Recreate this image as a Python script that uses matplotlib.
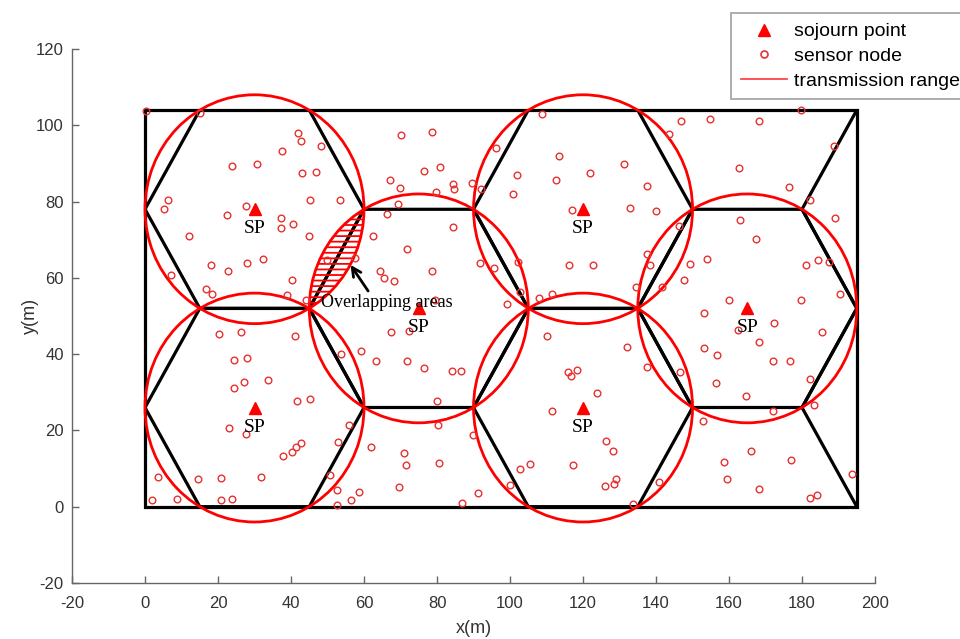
import numpy as np
import matplotlib
matplotlib.use("Agg")
import matplotlib.pyplot as plt
from matplotlib.patches import Circle, Polygon, Rectangle, PathPatch
from matplotlib.path import Path
from matplotlib.lines import Line2D

plt.rcParams["axes.unicode_minus"] = False

# ---- deployment field and sojourn points ----
field_w, field_h = 195, 104
radius = 30
sp_x = [30, 75, 120, 165, 30, 120]
sp_y = [78, 52, 78, 52, 26, 26]
# partial hexagon cells on the right border of the field
edge_cell_x = [210, 210]
edge_cell_y = [78, 26]

# ---- sensor nodes ----
node_x = [0.2, 15.1, 42.0, 42.6, 48.1, 37.4, 23.9, 30.7, 43.1, 46.8, 6.4, 5.3, 45.3, 53.5,
          27.6, 22.5, 37.3, 40.6, 37.3, 12.0, 44.9, 62.4,
          108.7, 70.1, 78.5, 96.2, 113.4, 80.8, 76.5, 101.8, 122.0, 67.1, 69.8, 84.5, 84.7,
          89.7, 92.0, 112.5, 79.8, 100.9, 69.3, 66.2, 117.0, 84.3,
          179.6, 146.8, 154.9, 168.2, 143.6, 188.8, 131.1, 162.7, 137.5, 176.5, 132.8, 139.9,
          182.2, 162.9, 189.1, 146.2, 167.4,
          18.0, 22.7, 27.9, 32.3, 7.1, 40.4, 16.6, 18.4, 38.8, 44.1, 49.8, 57.5, 64.4, 20.3,
          26.2, 41.0, 24.3, 28.0, 53.7, 59.1, 63.2,
          71.9, 65.5, 68.2, 78.6, 91.8, 95.6, 102.3, 116.2, 122.6, 79.5, 99.1, 108.0, 111.4,
          102.7, 67.5, 72.4, 110.0, 71.7, 76.5, 84.0, 86.5, 115.8, 118.3,
          137.4, 138.4, 153.9, 149.2, 181.0, 184.3, 187.5, 147.7, 134.5, 141.6, 190.4, 159.9,
          179.7, 153.2, 172.4, 162.4, 185.6, 168.2, 132.1, 153.2, 156.8, 172.1, 176.6, 137.4,
          146.7,
          24.4, 27.1, 33.6, 41.6, 45.2, 23.1, 27.6, 56.0, 53.0, 61.9, 42.7, 41.5, 40.3, 37.7,
          3.5, 14.4, 20.8, 31.8, 50.7, 52.7, 58.7, 1.9, 8.9, 20.8, 23.8, 56.4, 52.7,
          116.7, 123.7, 80.0, 111.6, 80.3, 89.9, 126.2, 128.3, 71.0, 71.5, 80.6, 102.8, 105.6,
          117.2, 129.0, 128.6, 126.0, 69.7, 91.3, 100.0, 86.8,
          156.4, 164.7, 182.2, 183.4, 172.1, 152.8, 166.1, 158.5, 177.1, 140.9, 159.4, 168.1,
          193.6, 182.1, 184.1, 133.8]
node_y = [103.8, 103.1, 98.1, 95.9, 94.6, 93.3, 89.3, 89.8, 87.6, 87.7, 80.4, 78.1, 80.4, 80.3,
          78.8, 76.6, 75.8, 74.2, 73.1, 70.9, 70.9, 70.9,
          102.9, 97.4, 98.2, 94.1, 91.9, 89.1, 88.0, 87.1, 87.5, 85.6, 83.6, 84.5, 83.4,
          84.9, 83.3, 85.6, 82.5, 81.9, 79.4, 76.8, 77.7, 73.3,
          104.0, 101.0, 101.6, 101.0, 97.8, 94.6, 89.9, 88.9, 84.1, 83.9, 78.4, 77.6,
          80.3, 75.3, 75.7, 73.6, 70.3,
          63.5, 61.7, 64.0, 65.0, 60.8, 59.4, 57.0, 55.8, 55.5, 54.1, 64.8, 65.3, 61.8, 45.3,
          45.9, 44.7, 38.5, 39.0, 40.1, 40.8, 38.1,
          67.5, 59.9, 59.2, 61.9, 63.8, 62.6, 64.1, 63.5, 63.3, 54.3, 53.2, 54.8, 55.9,
          56.4, 45.8, 46.0, 44.7, 38.3, 36.4, 35.5, 35.7, 35.3, 35.8,
          66.3, 63.5, 65.0, 63.7, 63.5, 64.7, 64.1, 59.5, 57.7, 57.6, 55.8, 54.1,
          54.3, 50.7, 48.3, 46.3, 45.7, 43.1, 41.9, 41.6, 39.7, 38.3, 38.3, 36.7,
          35.4,
          31.0, 32.7, 33.3, 27.6, 28.3, 20.6, 19.2, 21.4, 17.1, 15.7, 16.6, 15.7, 14.4, 13.3,
          7.8, 7.3, 7.6, 7.8, 8.3, 4.5, 3.8, 1.8, 1.9, 1.8, 2.0, 1.8, 0.5,
          34.2, 29.7, 27.7, 25.1, 21.5, 18.7, 17.3, 14.6, 14.0, 11.0, 11.5, 9.9, 11.3,
          11.0, 7.3, 5.9, 5.5, 5.1, 3.6, 5.8, 1.0,
          32.5, 29.1, 33.6, 26.8, 25.1, 22.4, 14.5, 11.6, 12.2, 6.4, 7.2, 4.7,
          8.7, 2.4, 3.2, 0.8]

RED = "#ff0000"
NODE_RED = "#e83030"

fig = plt.figure(figsize=(9.60, 6.39), dpi=100)
ax = fig.add_axes([0.075, 0.0876, 0.8365, 0.8357])
ax.set_xlim(-20, 200)
ax.set_ylim(-20, 120)

# field boundary
ax.add_patch(Rectangle((0, 0), field_w, field_h, fill=False, edgecolor="black",
                       linewidth=2.3, zorder=2))

# hexagonal cells (flat-top, circumradius = transmission range)
angles = np.deg2rad(np.arange(0, 360, 60))
for cx, cy in zip(sp_x + edge_cell_x, sp_y + edge_cell_y):
    verts = np.column_stack([cx + radius * np.cos(angles), cy + radius * np.sin(angles)])
    hx = Polygon(verts, closed=True, fill=False, edgecolor="black", linewidth=2.3,
                 zorder=2, joinstyle="round")
    ax.add_patch(hx)
    hx.set_clip_path(Rectangle((0, 0), field_w, field_h, transform=ax.transData))

# transmission range circles
for cx, cy in zip(sp_x, sp_y):
    ax.add_patch(Circle((cx, cy), radius, fill=False, edgecolor=RED, linewidth=2.0,
                        zorder=3))

# hatched overlap between the first two coverage circles
a = np.array([sp_x[0], sp_y[0]], float)
b = np.array([sp_x[1], sp_y[1]], float)
d = np.linalg.norm(b - a)
mid = (a + b) / 2
h = np.sqrt(radius ** 2 - (d / 2) ** 2)
perp = np.array([-(b - a)[1], (b - a)[0]]) / d
p1, p2 = mid - h * perp, mid + h * perp
ta1, ta2 = [np.arctan2(*(p - a)[::-1]) for p in (p1, p2)]
tb2, tb1 = [np.arctan2(*(p - b)[::-1]) for p in (p2, p1)]
t_a = np.linspace(ta1, ta2, 60)
t_b = np.linspace(tb2, tb1 if tb1 > tb2 else tb1 + 2 * np.pi, 60)
lens = np.vstack([np.column_stack([a[0] + radius * np.cos(t_a), a[1] + radius * np.sin(t_a)]),
                  np.column_stack([b[0] + radius * np.cos(t_b), b[1] + radius * np.sin(t_b)])])
plt.rcParams["hatch.linewidth"] = 1.3
ax.add_patch(PathPatch(Path(np.vstack([lens, lens[:1]]), closed=True), facecolor="none",
                       edgecolor=RED, hatch="---", linewidth=0, zorder=2.5))

# sensor nodes
ax.plot(node_x, node_y, linestyle="none", marker="o", markersize=4.8,
        markerfacecolor="none", markeredgecolor=NODE_RED, markeredgewidth=1.0, zorder=4)

# sojourn points
ax.plot(sp_x, sp_y, linestyle="none", marker="^", markersize=9, color=RED, zorder=5)
for x, y in zip(sp_x, sp_y):
    ax.annotate("SP", (x, y), xytext=(0, -14), textcoords="offset points",
                ha="center", va="center", fontsize=14, family="Liberation Serif",
                color="black", zorder=6)

ax.annotate("Overlapping areas", xy=(56.3, 63.4), xytext=(48.3, 53.6),
            ha="left", va="center", fontsize=13, family="Liberation Serif", zorder=6,
            arrowprops=dict(arrowstyle="->", color="black", lw=2.0, mutation_scale=16,
                            shrinkA=0, shrinkB=0, relpos=(0.37, 1.0)))

# axes styling
for side in ("top", "right"):
    ax.spines[side].set_visible(False)
for side in ("left", "bottom"):
    ax.spines[side].set_color("#666666")
    ax.spines[side].set_linewidth(1.0)
ax.set_xticks(np.arange(-20, 201, 20))
ax.set_yticks(np.arange(-20, 121, 20))
ax.tick_params(direction="in", length=5, width=1, color="#666666", labelsize=12,
               labelcolor="#333333")
ax.tick_params(axis="x", pad=9)
ax.tick_params(axis="y", pad=6)
for lbl in ax.get_xticklabels() + ax.get_yticklabels():
    lbl.set_family("Liberation Sans")
ax.set_xlabel("x(m)", fontsize=13, family="Liberation Sans", color="#333333", labelpad=7)
ax.set_ylabel("y(m)", fontsize=13, family="Liberation Sans", color="#333333", labelpad=-2)

handles = [
    Line2D([], [], linestyle="none", marker="^", markersize=8, color=RED),
    Line2D([], [], linestyle="none", marker="o", markersize=5, markerfacecolor="none",
           markeredgecolor=NODE_RED, markeredgewidth=1.2),
    Line2D([], [], color=RED, linewidth=1.2, alpha=0.8),
]
leg = fig.legend(handles, ["sojourn point", "sensor node", "transmission range"],
                 loc="upper left", bbox_to_anchor=(731 / 960, 1 - 13 / 639),
                 bbox_transform=fig.transFigure, frameon=True, fancybox=False,
                 edgecolor="#888888", handlelength=2.4, borderaxespad=0,
                 borderpad=0.5, labelspacing=0.36, handletextpad=0.36,
                 prop={"family": "Liberation Sans", "size": 14})
leg.get_frame().set_linewidth(1.2)

fig.savefig("out.png", dpi=100)
